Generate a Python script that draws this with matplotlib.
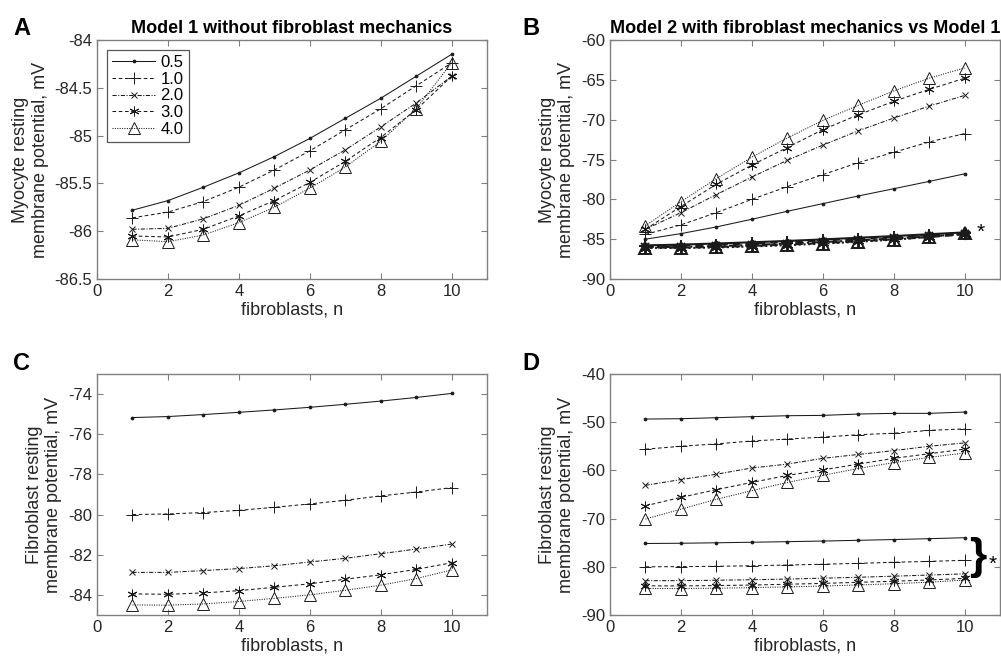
import matplotlib
matplotlib.use("Agg")
import matplotlib.pyplot as plt

plt.rcParams['font.family'] = ['Liberation Sans', 'DejaVu Sans']
plt.rcParams['lines.dashed_pattern'] = [3.5, 2.5]
plt.rcParams['lines.dotted_pattern'] = [1, 1.3]
plt.rcParams['lines.dashdot_pattern'] = [4, 1.5, 1, 1.5]

n = [1, 2, 3, 4, 5, 6, 7, 8, 9, 10]
labels = ["0.5", "1.0", "2.0", "3.0", "4.0"]

# Model 1, myocyte resting potential (panel A, also bottom group of B)
myo_m1 = [
    [-85.78, -85.68, -85.54, -85.39, -85.22, -85.03, -84.82, -84.61, -84.38, -84.15],
    [-85.86, -85.80, -85.69, -85.54, -85.36, -85.16, -84.94, -84.72, -84.48, -84.24],
    [-85.98, -85.97, -85.87, -85.73, -85.55, -85.36, -85.15, -84.91, -84.66, -84.38],
    [-86.05, -86.06, -85.98, -85.84, -85.68, -85.49, -85.27, -85.02, -84.73, -84.38],
    [-86.09, -86.11, -86.04, -85.91, -85.75, -85.55, -85.33, -85.06, -84.72, -84.24],
]
# Model 2, myocyte resting potential (panel B)
myo_m2 = [
    [-85.0, -84.3, -83.46, -82.5, -81.5, -80.54, -79.58, -78.67, -77.75, -76.8],
    [-84.4, -83.2, -81.67, -80.0, -78.4, -76.9, -75.4, -74.1, -72.8, -71.75],
    [-83.75, -81.67, -79.4, -77.2, -75.1, -73.2, -71.4, -69.8, -68.3, -66.96],
    [-83.75, -80.9, -78.1, -75.7, -73.5, -71.25, -69.4, -67.7, -66.2, -64.8],
    [-83.3, -80.3, -77.4, -74.7, -72.3, -70.1, -68.2, -66.4, -64.8, -63.5],
]
# Model 1, fibroblast resting potential (panel C, also bottom group of D)
fib_m1 = [
    [-75.17, -75.12, -75.02, -74.91, -74.79, -74.66, -74.51, -74.35, -74.17, -73.97],
    [-80.0, -79.97, -79.90, -79.79, -79.64, -79.47, -79.29, -79.07, -78.88, -78.66],
    [-82.88, -82.88, -82.79, -82.69, -82.55, -82.36, -82.18, -81.95, -81.72, -81.47],
    [-83.95, -83.97, -83.90, -83.79, -83.62, -83.45, -83.22, -83.0, -82.73, -82.40],
    [-84.50, -84.51, -84.45, -84.33, -84.17, -84.0, -83.77, -83.52, -83.19, -82.76],
]
# Model 2, fibroblast resting potential (panel D)
fib_m2 = [
    [-49.35, -49.28, -49.07, -48.86, -48.66, -48.59, -48.31, -48.17, -48.17, -47.9],
    [-55.6, -55.0, -54.5, -53.9, -53.5, -53.1, -52.6, -52.3, -51.7, -51.4],
    [-63.1, -61.9, -60.8, -59.5, -58.7, -57.5, -56.7, -55.9, -55.0, -54.3],
    [-67.35, -65.6, -64.0, -62.5, -61.05, -59.9, -58.7, -57.5, -56.55, -55.6],
    [-70.1, -68.05, -66.0, -64.2, -62.5, -61.05, -59.6, -58.4, -57.3, -56.4],
]

styles = ["-", "--", "-.", "--", ":"]
markers = [".", "+", "x", (6, 2, 0), "^"]
msizes = [4, 8, 5, 7, 8]

fig = plt.figure(figsize=(10.01, 6.59), dpi=100)
axA = fig.add_axes([0.0969, 0.5766, 0.3896, 0.3627])
axB = fig.add_axes([0.6094, 0.5766, 0.3896, 0.3627])
axC = fig.add_axes([0.0969, 0.0668, 0.3896, 0.3657])
axD = fig.add_axes([0.6094, 0.0668, 0.3896, 0.3657])


def draw(ax, data, lw=0.75, bold=False):
    for i in range(len(data)):
        ax.plot(n, data[i], linestyle=styles[i], marker=markers[i], color="#1a1a1a",
                linewidth=lw, ms=msizes[i] + (1 if bold else 0),
                mfc="none" if markers[i] == "^" else "#1a1a1a",
                mew=1.4 if bold else 0.7, label=labels[i])


draw(axA, myo_m1)
draw(axB, myo_m2)
draw(axB, myo_m1, lw=1.5, bold=True)
draw(axC, fib_m1)
draw(axD, fib_m2)
draw(axD, fib_m1)

for ax in [axA, axB, axC, axD]:
    ax.set_xlim(0, 11)
    ax.set_xticks([0, 2, 4, 6, 8, 10])
    ax.tick_params(direction="in", top=True, right=True, labelsize=12,
                   length=4, color="#808080", labelcolor="#262626")
    for s in ax.spines.values():
        s.set_color("#808080")
        s.set_linewidth(1.0)
    ax.set_xlabel("fibroblasts, n", fontsize=13, color="#262626", labelpad=2)

axA.set_ylim(-86.5, -84)
axA.set_yticks([-86.5, -86, -85.5, -85, -84.5, -84])
axA.set_yticklabels(["-86.5", "-86", "-85.5", "-85", "-84.5", "-84"])
axB.set_ylim(-90, -60)
axB.set_yticks(range(-90, -59, 5))
axC.set_ylim(-85, -73)
axC.set_yticks(range(-84, -73, 2))
axD.set_ylim(-90, -40)
axD.set_yticks(range(-90, -39, 10))

for ax in [axA, axB, axC, axD]:
    ax.set_yticklabels([t.get_text().replace("\u2212", "-") for t in ax.get_yticklabels()])

axA.set_ylabel("Myocyte resting\nmembrane potential, mV", fontsize=13, color="#262626", labelpad=4)
axB.set_ylabel("Myocyte resting\nmembrane potential, mV", fontsize=13, color="#262626", labelpad=4)
axC.set_ylabel("Fibroblast resting\nmembrane potential, mV", fontsize=13, color="#262626", labelpad=4)
axD.set_ylabel("Fibroblast resting\nmembrane potential, mV", fontsize=13, color="#262626", labelpad=4)

axA.set_title("Model 1 without fibroblast mechanics", fontsize=13, fontweight="bold", pad=5)
axB.set_title("Model 2 with fibroblast mechanics vs Model 1", fontsize=13, fontweight="bold", pad=5)

leg = axA.legend(loc="upper left", bbox_to_anchor=(0.026, 0.958), borderaxespad=0,
                 fontsize=12, handlelength=2.6, labelspacing=0.1, fancybox=False,
                 framealpha=1, borderpad=0.3, handletextpad=0.3)
leg.get_frame().set_edgecolor("#555555")
leg.get_frame().set_linewidth(0.9)

axB.text(10.45, -84.1, "*", fontsize=15, ha="center", va="center", clip_on=False)
axD.text(10.38, -78.0, "}", fontsize=32, fontweight="bold", ha="center", va="center", clip_on=False)
axD.text(10.78, -79.5, "*", fontsize=15, ha="center", va="center", clip_on=False)

for lab, x, y in [("A", 0.013, 0.947), ("B", 0.5215, 0.947), ("C", 0.013, 0.4385), ("D", 0.5215, 0.4385)]:
    fig.text(x, y, lab, fontsize=17, fontweight="bold", va="baseline")

fig.savefig("out.png", dpi=100)
